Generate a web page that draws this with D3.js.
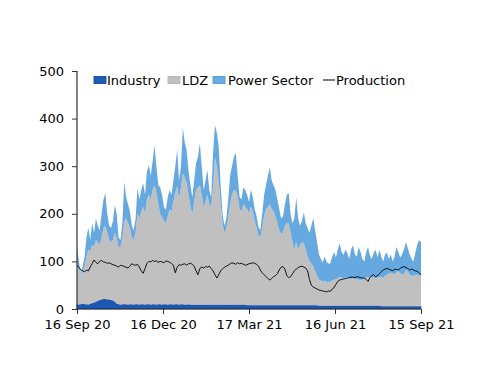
<!DOCTYPE html>
<html><head><meta charset="utf-8">
<script src="https://cdn.jsdelivr.net/npm/d3@7"></script>
<style>
body{margin:0;background:#fff}
svg{display:block}
text{font-family:"DejaVu Sans",sans-serif;font-size:13px;fill:#000}
</style>
</head><body>
<svg id="chart" width="500" height="386"></svg>
<script>
// ---- data (one value every 2 days from 16 Sep 20) ----
const startDate = "2020-09-16";
const stepDays = 2;
const tickDates = ["2020-09-16","2020-12-16","2021-03-17","2021-06-16","2021-09-15"];
const tickLabels = ["16 Sep 20","16 Dec 20","17 Mar 21","16 Jun 21","15 Sep 21"];
const yTicks = [0,100,200,300,400,500];
const seriesNames = ["Industry","LDZ","Power Sector","Production"];

const industry = [
10,9,10,11,10,10,9,11,12,
13,15,17,19,20,21,21,20,20,19,18,15,11,
10,9,10,10,10,9,10,10,9,10,10,9,10,10,9,10,10,9,10,10,9,10,10,9,10,10,9,10,10,9,10,10,9,10,10,9,9,10,9,
9,9,9,9,9,9,9,9,9,9,9,9,9,9,9,9,9,9,9,9,9,9,9,9,9,9,9,9,9,
8,8,8,8,8,8,8,8,8,8,8,8,8,8,8,8,8,8,8,8,8,8,8,8,8,8,8,8,8,8,8,8,8,8,8,8,8,8,
7,7,7,7,7,7,7,7,7,7,7,7,7,7,7,7,7,7,7,7,7,7,7,7,7,7,7,7,7,7,7,7,7,
6,6,6,6,6,6,6,6,6,6,6,6,6,6,6,6,6,6,6,6,6,6
];
const ldz = [
85,76,62,69,80,100,116,109,123,117,130,123,116,130,149,154,140,125,121,127,145,139,
120,121,140,175,180,171,160,140,136,150,190,181,195,205,191,220,230,221,240,250,236,210,190,184,175,170,186,200,195,216,235,248,221,245,275,266,256,230,206,
191,216,241,246,251,231,206,216,231,211,206,251,308,291,256,211,171,151,161,181,211,231,241,241,227,201,196,211,206,
202,192,207,197,177,162,147,142,162,187,202,207,212,202,197,187,172,157,150,152,167,172,172,152,132,117,132,117,127,132,130,117,102,92,87,82,72,62,
55,53,51,51,50,49,51,53,55,55,58,60,59,57,59,59,57,56,58,55,56,55,53,55,57,59,60,59,60,59,57,59,60,
62,59,64,66,68,70,69,66,72,74,69,66,68,76,74,66,64,64,66,66,65,64
];
const power = [
40,15,3,10,20,40,45,25,45,30,45,35,30,50,60,68,40,30,30,40,58,50,
20,15,30,82,45,40,35,25,20,30,54,40,45,49,40,60,62,50,60,84,55,40,56,47,30,28,40,40,35,45,55,76,40,45,95,75,69,50,45,
35,45,56,65,88,60,35,45,52,30,20,70,69,70,75,40,20,15,20,40,60,60,69,78,44,26,25,35,35,
30,25,35,30,25,25,17,16,30,45,50,65,78,60,55,55,50,45,32,35,45,60,63,40,40,65,95,65,40,45,65,55,60,60,80,101,85,70,
53,45,40,52,43,39,38,50,58,46,60,71,54,49,59,52,41,62,69,53,47,68,60,43,36,54,63,46,38,52,60,42,57,
42,35,45,46,31,39,25,38,52,40,33,43,51,59,48,43,35,30,46,63,74,70
];
const production = [
92,88,82,80,78,82,80,88,95,103,98,95,100,102,99,98,96,97,95,93,92,90,
88,92,91,89,88,86,90,95,93,92,94,88,80,75,85,96,100,99,102,100,101,98,100,99,97,101,100,98,96,92,76,88,93,92,94,95,92,95,96,
94,90,80,72,85,88,86,89,88,90,85,80,72,65,72,80,84,88,90,92,95,97,96,94,97,95,96,94,92,
93,95,96,97,96,94,90,82,76,72,68,64,61,64,68,70,74,82,88,89,84,70,66,68,74,80,84,87,89,90,88,86,80,62,50,46,44,42,
40,39,38,37,36,38,37,42,45,52,58,61,62,63,64,65,66,67,67,66,68,67,66,65,65,62,58,66,70,72,68,70,74,
78,82,84,85,84,82,80,84,83,82,85,88,89,87,85,82,84,82,80,79,76,72
];

// ---- build table ----
const parse = d3.utcParse("%Y-%m-%d");
const t0 = parse(startDate);
const rows = industry.map((v, i) => ({
  date: d3.utcDay.offset(t0, i * stepDays),
  industry: v, ldz: ldz[i], power: power[i], production: production[i]
}));

const colors = {industry:"#1B57B3", ldz:"#C0C0C0", power:"#66A9E0"};

const svg = d3.select("#chart");
const x = d3.scaleUtc().domain([parse(tickDates[0]), parse(tickDates[tickDates.length-1])]).range([77, 421]);
const y = d3.scaleLinear().domain([0, 500]).range([309, 71]);

const stack = d3.stack().keys(["industry","ldz","power"]);
const layers = stack(rows);
const area = d3.area().x(d => x(d.data.date)).y0(d => y(d[0])).y1(d => y(d[1])).curve(d3.curveLinear);

// draw top layer first so edges look right
svg.append("g").selectAll("path").data(layers).join("path")
  .attr("d", area)
  .attr("fill", d => colors[d.key])
  .attr("stroke", d => d.key === "industry" ? "#0E3F8E" : "none")
  .attr("stroke-width", 0.6);

svg.append("path").datum(rows)
  .attr("fill","none").attr("stroke","#000").attr("stroke-width",0.9)
  .attr("d", d3.line().x(d => x(d.date)).y(d => y(d.production)));

// axes
const yAxis = d3.axisLeft(y).tickValues(yTicks).tickSize(5).tickPadding(8).tickFormat(d3.format("d"));
const gy = svg.append("g").attr("transform","translate(77,0)").call(yAxis);
const xAxis = d3.axisBottom(x).tickValues(tickDates.map(parse)).tickSize(5).tickPadding(6)
  .tickFormat((d,i) => tickLabels[i]);
const gx = svg.append("g").attr("transform","translate(0,309)").call(xAxis);
[gx, gy].forEach(g => {
  g.select(".domain").attr("stroke","#333").attr("stroke-width",1.2);
  g.selectAll(".tick line").attr("stroke","#333");
  g.selectAll("text").attr("font-family","DejaVu Sans, sans-serif").attr("font-size",13).attr("fill","#000");
});
gx.select(".domain").attr("d","M77,0H421");
gy.select(".domain").attr("d","M0,71V309");

// legend
const legend = svg.append("g");
const legItems = [
  {key:"industry", label:seriesNames[0], sx:94, tx:107, fill:"#1F5DBA", stroke:"#0D3F8C"},
  {key:"ldz", label:seriesNames[1], sx:168, tx:182, fill:"#C0C0C0", stroke:"#B0B0B0"},
  {key:"power", label:seriesNames[2], sx:213, tx:228, fill:"#68ACE4", stroke:"#4E92CE"}
];
legItems.forEach(it => {
  legend.append("rect").attr("x", it.sx).attr("y", 76.5).attr("width", 12).attr("height", 7)
    .attr("fill", it.fill).attr("stroke", it.stroke).attr("stroke-width", 0.8);
  legend.append("text").attr("x", it.tx).attr("y", 84.5).text(it.label);
});
legend.append("line").attr("x1",323).attr("x2",335).attr("y1",80).attr("y2",80).attr("stroke","#000").attr("stroke-width",1);
legend.append("text").attr("x",336).attr("y",84.5).text(seriesNames[3]);
</script>
</body></html>
